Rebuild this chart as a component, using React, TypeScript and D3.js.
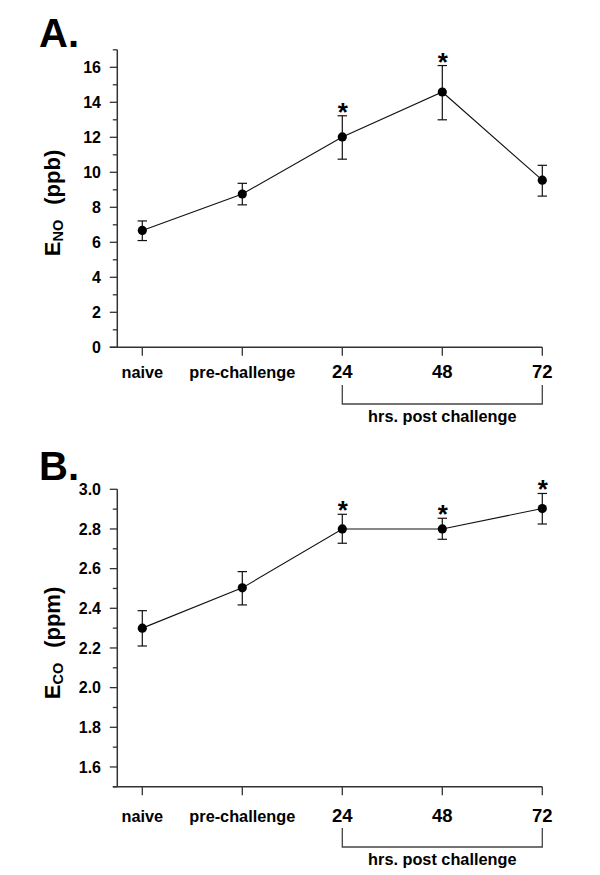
import React from "react";
import * as d3 from "d3";

const categories = ["naive", "pre-challenge", "24", "48", "72"];
const bracketLabel = "hrs. post challenge";

const noMean = [6.68, 8.76, 12.02, 14.59, 9.55];
const noLow = [6.1, 8.14, 10.75, 13.0, 8.64];
const noHigh = [7.22, 9.37, 13.23, 16.1, 10.4];
const noStar = [false, false, true, true, false];
const noMajorTicks = [0, 2, 4, 6, 8, 10, 12, 14, 16];
const noMinorTicks = [1, 3, 5, 7, 9, 11, 13, 15, 17];

const coMean = [2.3, 2.503, 2.8, 2.8, 2.903];
const coLow = [2.21, 2.417, 2.728, 2.748, 2.825];
const coHigh = [2.388, 2.585, 2.874, 2.854, 2.979];
const coStar = [false, false, true, true, true];
const coMajorTicks = [1.6, 1.8, 2.0, 2.2, 2.4, 2.6, 2.8, 3.0];
const coMinorTicks = [1.5, 1.7, 1.9, 2.1, 2.3, 2.5, 2.7, 2.9];

const FONT = "'Liberation Sans', Arial, Helvetica, sans-serif";

type PanelProps = {
  letter: string;
  letterY: number;
  yDomain: [number, number];
  yRange: [number, number];
  mean: number[];
  low: number[];
  high: number[];
  star: boolean[];
  major: number[];
  minor: number[];
  fmt: (v: number) => string;
  sub: string;
  unit: string;
  labelCenter: number;
  catBaseline: number;
  bracketTop: number;
  bracketBottom: number;
  bracketTextY: number;
};

const x = d3.scalePoint<string>().domain(categories).range([142.3, 542.3]).padding(0);
const axisX = 117.3;
const axisColor = "#333";

function Panel(p: PanelProps) {
  const y = d3.scaleLinear().domain(p.yDomain).range(p.yRange);
  const y0 = p.yRange[0];
  const pts = categories.map((c, i) => [x(c) as number, y(p.mean[i])] as [number, number]);
  const line = d3.line()(pts) || "";
  return (
    <g fontFamily={FONT}>
      <text x={39} y={p.letterY} fontSize={40} fontWeight="bold">{p.letter}</text>
      {/* y axis */}
      <line x1={axisX} x2={axisX} y1={y0} y2={p.yRange[1]} stroke={axisColor} strokeWidth={1.5} />
      {p.major.map((v) => (
        <g key={"M" + v}>
          <line x1={axisX - 7.5} x2={axisX} y1={y(v)} y2={y(v)} stroke={axisColor} strokeWidth={1.3} />
          <text x={101} y={y(v)} dy="0.36em" textAnchor="end" fontSize={16} fontWeight="bold">{p.fmt(v)}</text>
        </g>
      ))}
      {p.minor.map((v) => (
        <line key={"m" + v} x1={axisX - 4.5} x2={axisX} y1={y(v)} y2={y(v)} stroke={axisColor} strokeWidth={1.3} />
      ))}
      {/* x axis */}
      <line x1={axisX - (p.major.includes(p.yDomain[0]) ? 7.5 : 4.5)} x2={x("72") as number} y1={y0} y2={y0} stroke={axisColor} strokeWidth={1.5} />
      {categories.map((c) => (
        <g key={c}>
          <line x1={x(c) as number} x2={x(c) as number} y1={y0} y2={y0 + 8.5} stroke={axisColor} strokeWidth={1.3} />
          <text x={x(c) as number} y={p.catBaseline} textAnchor="middle" fontWeight="bold" fontSize={/^\d+$/.test(c) ? 18.5 : 16.3}>{c}</text>
        </g>
      ))}
      {/* bracket */}
      <path
        d={`M${x("24")},${p.bracketTop}V${p.bracketBottom}H${x("72")}V${p.bracketTop}`}
        fill="none"
        stroke="#444"
        strokeWidth={1.3}
      />
      <text x={((x("24") as number) + (x("72") as number)) / 2} y={p.bracketTextY} textAnchor="middle" fontWeight="bold" fontSize={16.3}>{bracketLabel}</text>
      {/* y label */}
      <text transform={`translate(60,${p.labelCenter}) rotate(-90)`} textAnchor="middle" fontWeight="bold" fontSize={22}>
        <tspan>E</tspan>
        <tspan fontSize={14.5} dy={3}>{p.sub}</tspan>
        <tspan dy={-3} dx={15}>{p.unit}</tspan>
      </text>
      {/* data */}
      <path d={line} fill="none" stroke="#111" strokeWidth={1.1} />
      {categories.map((c, i) => {
        const cx = x(c) as number;
        return (
          <g key={"d" + c}>
            <line x1={cx} x2={cx} y1={y(p.low[i])} y2={y(p.high[i])} stroke="#111" strokeWidth={1.2} />
            <line x1={cx - 4.7} x2={cx + 4.7} y1={y(p.low[i])} y2={y(p.low[i])} stroke="#111" strokeWidth={1.2} />
            <line x1={cx - 4.7} x2={cx + 4.7} y1={y(p.high[i])} y2={y(p.high[i])} stroke="#111" strokeWidth={1.2} />
            <circle cx={cx} cy={y(p.mean[i])} r={4.6} fill="#000" />
            {p.star[i] && (
              <text x={cx + 0.5} y={y(p.high[i]) + 5} textAnchor="middle" fontWeight="bold" fontSize={26}>*</text>
            )}
          </g>
        );
      })}
    </g>
  );
}

export default function App() {
  return (
    <svg width={600} height={875} style={{ position: "absolute", left: 0, top: 0, background: "#fff" }}>
      <rect width={600} height={875} fill="#fff" />
      <Panel
        letter="A."
        letterY={47}
        yDomain={[0, 17]}
        yRange={[347.3, 49.8]}
        mean={noMean}
        low={noLow}
        high={noHigh}
        star={noStar}
        major={noMajorTicks}
        minor={noMinorTicks}
        fmt={(v) => String(v)}
        sub="NO"
        unit="(ppb)"
        labelCenter={203}
        catBaseline={378}
        bracketTop={385}
        bracketBottom={404}
        bracketTextY={422}
      />
      <Panel
        letter="B."
        letterY={480}
        yDomain={[1.5, 3.0]}
        yRange={[786.8, 489.3]}
        mean={coMean}
        low={coLow}
        high={coHigh}
        star={coStar}
        major={coMajorTicks}
        minor={coMinorTicks}
        fmt={(v) => v.toFixed(1)}
        sub="CO"
        unit="(ppm)"
        labelCenter={643}
        catBaseline={821.5}
        bracketTop={828}
        bracketBottom={847}
        bracketTextY={865}
      />
    </svg>
  );
}
